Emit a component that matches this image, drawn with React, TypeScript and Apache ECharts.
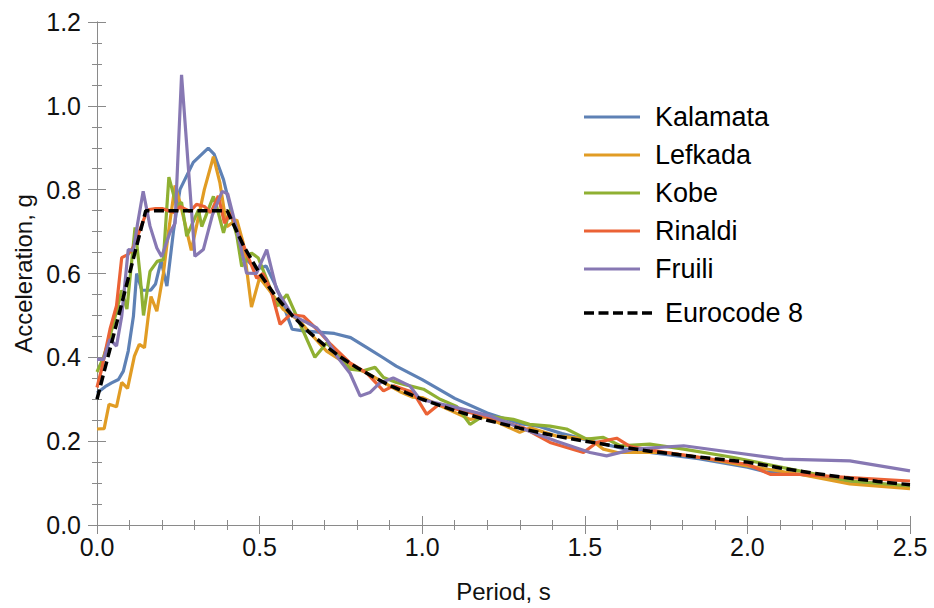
import React, { useEffect, useRef } from "react";
import * as echarts from "echarts";

const kalamata: number[][] = [
  [0, 0.315], [0.025, 0.33], [0.045, 0.339], [0.066, 0.347], [0.081, 0.367], [0.096, 0.415],
  [0.112, 0.498], [0.122, 0.6], [0.138, 0.56], [0.165, 0.56], [0.18, 0.575], [0.197, 0.63],
  [0.215, 0.57], [0.235, 0.7], [0.255, 0.8], [0.296, 0.865], [0.342, 0.899], [0.36, 0.885],
  [0.389, 0.824], [0.409, 0.76], [0.435, 0.681], [0.46, 0.633], [0.49, 0.61], [0.52, 0.618],
  [0.55, 0.57], [0.563, 0.546], [0.6, 0.467], [0.635, 0.463], [0.68, 0.46], [0.73, 0.457],
  [0.78, 0.447], [0.83, 0.423], [0.88, 0.399], [0.92, 0.379], [0.96, 0.363], [1.0, 0.347],
  [1.1, 0.302], [1.2, 0.267], [1.3, 0.242], [1.36, 0.235], [1.43, 0.218], [1.52, 0.2],
  [1.62, 0.182], [1.7, 0.173], [1.85, 0.158], [2.0, 0.138], [2.06, 0.126], [2.16, 0.121],
  [2.3, 0.106], [2.5, 0.092],
];

const lefkada: number[][] = [
  [0, 0.229], [0.022, 0.23], [0.037, 0.288], [0.06, 0.282], [0.076, 0.34], [0.094, 0.326],
  [0.115, 0.403], [0.13, 0.431], [0.146, 0.423], [0.158, 0.5], [0.166, 0.545], [0.184, 0.51],
  [0.204, 0.6], [0.22, 0.7], [0.24, 0.81], [0.255, 0.77], [0.29, 0.655], [0.33, 0.8],
  [0.358, 0.879], [0.378, 0.816], [0.399, 0.712], [0.43, 0.728], [0.45, 0.672], [0.475, 0.52],
  [0.5, 0.59], [0.53, 0.56], [0.573, 0.514], [0.624, 0.486], [0.655, 0.458], [0.706, 0.415],
  [0.778, 0.379], [0.829, 0.363], [0.881, 0.34], [0.932, 0.318], [0.97, 0.305], [1.0, 0.304],
  [1.147, 0.252], [1.198, 0.257], [1.3, 0.221], [1.332, 0.232], [1.413, 0.212], [1.516, 0.205],
  [1.557, 0.181], [1.6, 0.173], [1.75, 0.173], [1.855, 0.161], [2.0, 0.141], [2.16, 0.121],
  [2.315, 0.098], [2.5, 0.087],
];

const kobe: number[][] = [
  [0, 0.365], [0.02, 0.4], [0.04, 0.45], [0.06, 0.51], [0.076, 0.56], [0.092, 0.515],
  [0.117, 0.71], [0.132, 0.6], [0.143, 0.5], [0.163, 0.605], [0.185, 0.629], [0.204, 0.633],
  [0.221, 0.83], [0.245, 0.76], [0.26, 0.77], [0.276, 0.689], [0.312, 0.752], [0.322, 0.712],
  [0.358, 0.784], [0.368, 0.76], [0.389, 0.697], [0.409, 0.752], [0.43, 0.69], [0.445, 0.617],
  [0.475, 0.649], [0.496, 0.637], [0.522, 0.586], [0.553, 0.522], [0.584, 0.55], [0.63, 0.47],
  [0.67, 0.4], [0.706, 0.434], [0.737, 0.411], [0.778, 0.372], [0.819, 0.368], [0.855, 0.376],
  [0.881, 0.352], [0.921, 0.34], [0.962, 0.332], [1.004, 0.324], [1.055, 0.3], [1.106, 0.283],
  [1.147, 0.24], [1.188, 0.26], [1.239, 0.256], [1.28, 0.252], [1.33, 0.24], [1.393, 0.236],
  [1.444, 0.229], [1.506, 0.205], [1.557, 0.209], [1.609, 0.189], [1.7, 0.193], [1.804, 0.181],
  [1.958, 0.161], [2.11, 0.137], [2.315, 0.105], [2.5, 0.093],
];

const rinaldi: number[][] = [
  [0, 0.328], [0.014, 0.371], [0.04, 0.467], [0.06, 0.523], [0.076, 0.638], [0.095, 0.645],
  [0.11, 0.66], [0.13, 0.7], [0.155, 0.752], [0.18, 0.755], [0.2, 0.755], [0.22, 0.75],
  [0.24, 0.745], [0.255, 0.76], [0.286, 0.748], [0.306, 0.765], [0.33, 0.76], [0.35, 0.745],
  [0.373, 0.785], [0.392, 0.72], [0.41, 0.745], [0.43, 0.705], [0.46, 0.649], [0.491, 0.589],
  [0.51, 0.6], [0.535, 0.56], [0.563, 0.479], [0.594, 0.502], [0.635, 0.498], [0.676, 0.467],
  [0.72, 0.43], [0.778, 0.387], [0.829, 0.363], [0.881, 0.32], [0.912, 0.332], [0.973, 0.316],
  [1.014, 0.264], [1.05, 0.287], [1.106, 0.276], [1.209, 0.256], [1.311, 0.232], [1.393, 0.197],
  [1.496, 0.173], [1.537, 0.197], [1.598, 0.207], [1.64, 0.187], [1.752, 0.173], [1.855, 0.161],
  [2.0, 0.145], [2.07, 0.121], [2.16, 0.121], [2.315, 0.113], [2.5, 0.105],
];

const fruili: number[][] = [
  [0, 0.395], [0.02, 0.395], [0.04, 0.443], [0.06, 0.427], [0.076, 0.498], [0.096, 0.657],
  [0.112, 0.655], [0.125, 0.72], [0.142, 0.796], [0.163, 0.713], [0.184, 0.661], [0.199, 0.64],
  [0.224, 0.697], [0.24, 0.72], [0.26, 1.074], [0.301, 0.641], [0.327, 0.657], [0.355, 0.74],
  [0.385, 0.796], [0.402, 0.79], [0.43, 0.704], [0.46, 0.601], [0.49, 0.6], [0.522, 0.657],
  [0.552, 0.562], [0.6, 0.5], [0.64, 0.485], [0.676, 0.47], [0.706, 0.443], [0.737, 0.403],
  [0.778, 0.362], [0.809, 0.308], [0.839, 0.316], [0.87, 0.339], [0.911, 0.351], [0.962, 0.332],
  [0.993, 0.3], [1.106, 0.28], [1.209, 0.26], [1.311, 0.229], [1.413, 0.2], [1.516, 0.173],
  [1.567, 0.165], [1.65, 0.181], [1.804, 0.189], [1.958, 0.173], [2.11, 0.157], [2.315, 0.153],
  [2.5, 0.129],
];

const eurocode8: number[][] = [
  [0, 0.3], [0.15, 0.75], [0.4, 0.75], [0.45, 0.667], [0.5, 0.6], [0.55, 0.545], [0.6, 0.5],
  [0.65, 0.4615], [0.7, 0.4286], [0.75, 0.4], [0.8, 0.375], [0.85, 0.353], [0.9, 0.333],
  [0.95, 0.316], [1.0, 0.3], [1.1, 0.273], [1.2, 0.25], [1.3, 0.231], [1.4, 0.214],
  [1.5, 0.2], [1.6, 0.1875], [1.7, 0.176], [1.8, 0.1667], [1.9, 0.158], [2.0, 0.15],
  [2.1, 0.136], [2.2, 0.124], [2.3, 0.113], [2.4, 0.104], [2.5, 0.096],
];

const seriesNames = ["Kalamata", "Lefkada", "Kobe", "Rinaldi", "Fruili", "Eurocode 8"];
const seriesData = [kalamata, lefkada, kobe, rinaldi, fruili, eurocode8];
const seriesColors = ["#5E81B5", "#E19C24", "#8FB032", "#EB6235", "#8778B3", "#000000"];

const FONT = "'Liberation Sans', Arial, sans-serif";
const FRAME = "#8a8a8a";
const SOLID_ICON = "path://M0,0 L56,0 L56,3.2 L0,3.2 Z";
const DASH_ICON =
  "path://M0,0h10v3.5h-10z M14.5,0h10v3.5h-10z M29,0h10v3.5h-10z M43.5,0h10v3.5h-10z M58,0h10v3.5h-10z";

export default function App() {
  const ref = useRef<HTMLDivElement>(null);
  useEffect(() => {
    if (!ref.current) return;
    const chart = echarts.init(ref.current, undefined, { renderer: "svg" });
    const line = { show: true, lineStyle: { color: FRAME, width: 1 } };
    const tick = { show: true, inside: true, length: 9, lineStyle: { color: FRAME } };
    const minor = (n: number) => ({ show: true, splitNumber: n, length: -5, lineStyle: { color: FRAME } });
    const lineSeries = seriesNames.map((name, i) => ({
      name,
      type: "line",
      data: seriesData[i],
      showSymbol: false,
      symbol: "none",
      z: i === 5 ? 10 : 2 + i,
      lineStyle: {
        color: seriesColors[i],
        width: i === 5 ? 3.5 : 3.2,
        type: i === 5 ? [10, 4.5] : "solid",
      },
      itemStyle: { color: seriesColors[i] },
    }));
    const legendText = (pad: number) => ({
      fontSize: 27,
      lineHeight: 27,
      color: "#000",
      fontFamily: FONT,
      padding: [0, 0, 0, pad],
    });
    chart.setOption({
      animation: false,
      backgroundColor: "#ffffff",
      textStyle: { fontFamily: FONT },
      grid: { left: 97, right: 24, top: 22, bottom: 82, containLabel: false },
      legend: [
        {
          data: seriesNames.slice(0, 5),
          orient: "vertical",
          left: 579,
          top: 98.5,
          itemWidth: 56,
          itemHeight: 27,
          itemGap: 11,
          icon: SOLID_ICON,
          textStyle: legendText(10),
          selectedMode: false,
        },
        {
          data: ["Eurocode 8"],
          orient: "vertical",
          left: 579,
          top: 294.5,
          itemWidth: 68,
          itemHeight: 27,
          icon: DASH_ICON,
          textStyle: legendText(8),
          selectedMode: false,
        },
      ],
      xAxis: [
        {
          type: "value",
          min: 0,
          max: 2.5,
          interval: 0.5,
          minorTick: minor(5),
          axisLine: line,
          axisTick: tick,
          splitLine: { show: false },
          axisLabel: {
            formatter: (v: number) => v.toFixed(1),
            fontSize: 25,
            color: "#111",
            fontFamily: FONT,
            margin: 9,
          },
          name: "Period, s",
          nameLocation: "middle",
          nameGap: 54,
          nameTextStyle: { fontSize: 24, color: "#111", fontFamily: FONT },
        },
        {
          type: "value",
          position: "top",
          min: 0,
          max: 2.5,
          interval: 0.5,
          minorTick: minor(5),
          axisLine: line,
          axisTick: tick,
          splitLine: { show: false },
          axisLabel: { show: false },
        },
      ],
      yAxis: [
        {
          type: "value",
          min: 0,
          max: 1.2,
          interval: 0.2,
          minorTick: minor(4),
          axisLine: line,
          axisTick: tick,
          splitLine: { show: false },
          axisLabel: {
            formatter: (v: number) => v.toFixed(1),
            fontSize: 25,
            color: "#111",
            fontFamily: FONT,
            margin: 16,
          },
          name: "Acceleration, g",
          nameLocation: "middle",
          nameGap: 51,
          nameTextStyle: { fontSize: 24, color: "#111", fontFamily: FONT },
        },
        {
          type: "value",
          position: "right",
          min: 0,
          max: 1.2,
          interval: 0.2,
          minorTick: minor(4),
          axisLine: line,
          axisTick: tick,
          splitLine: { show: false },
          axisLabel: { show: false },
        },
      ],
      series: lineSeries,
    });
    return () => chart.dispose();
  }, []);
  return (
    <div
      ref={ref}
      style={{ position: "fixed", left: 0, top: 0, width: 934, height: 608, background: "#fff" }}
    />
  );
}
